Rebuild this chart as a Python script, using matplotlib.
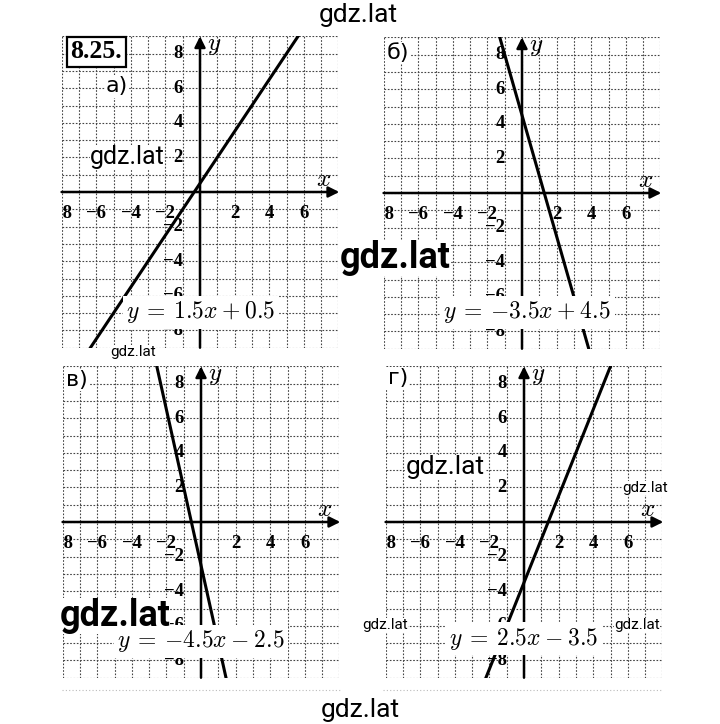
import numpy as np
import matplotlib
matplotlib.use("Agg")
import matplotlib.pyplot as plt

plt.rcParams['mathtext.fontset'] = 'cm'

# ---- data ----
panel_letters = ["а)", "б)", "в)", "г)"]
slopes = [1.5, -3.5, -4.5, 2.5]
intercepts = [0.5, 4.5, -2.5, -3.5]
formulas = [r"$y\:=\:1.5x\:+\:0.5$", r"$y\:=\:{-}3.5x\:+\:4.5$",
            r"$y\:=\:{-}4.5x\:-\:2.5$", r"$y\:=\:2.5x\:-\:3.5$"]
x_tick_vals = [-8, -6, -4, -2, 2, 4, 6]
x_tick_labels = ["−8", "−6", "−4", "−2", "2", "4", "6"]
y_tick_vals = [8, 6, 4, 2, -2, -4, -6, -8]
y_tick_labels = ["8", "6", "4", "2", "−2", "−4", "−6", "−8"]
problem_number = "8.25."

# ---- layout ----
W, H = 720, 724
u = 17.3
origins = [(200, 192), (522, 193), (201, 522), (524, 522)]   # pixel origin of each panel
letter_pos = [(-4.8, 6.1), (-7.2, 8.1), (-7.2, 8.2), (-7.3, 8.3)]
formula_pos = [(0.05, -6.95), (0.3, -6.9), (0.0, -6.9), (0.0, -6.75)]

fig = plt.figure(figsize=(W / 100, H / 100), dpi=100)
fig.patch.set_facecolor("white")

serif_bold = dict(family="Liberation Serif", weight="bold")

for i, (ox, oy) in enumerate(origins):
    left = ox - 8 * u
    top = oy - 9 * u
    ax = fig.add_axes([left / W, (H - (top + 18 * u)) / H, 16 * u / W, 18 * u / H])
    ax.set_xlim(-8, 8)
    ax.set_ylim(-9, 9)
    for s in ax.spines.values():
        s.set_visible(False)
    ax.set_xticks([])
    ax.set_yticks([])
    # grid
    for gx in range(-8, 9):
        ax.plot([gx, gx], [-9, 9], color="#444444", lw=0.8, ls=(0, (1.5, 1.5)), zorder=1)
    for gy in range(-9, 10):
        ax.plot([-8, 8], [gy, gy], color="#444444", lw=0.8, ls=(0, (1.5, 1.5)), zorder=1)
    # axes with arrows
    ax.annotate("", xy=(8.05, 0), xytext=(-8, 0),
                arrowprops=dict(arrowstyle="-|>", lw=1.8, color="black",
                                mutation_scale=16, shrinkA=0, shrinkB=0),
                annotation_clip=False, zorder=3)
    ax.annotate("", xy=(0, 9.0), xytext=(0, -9),
                arrowprops=dict(arrowstyle="-|>", lw=1.8, color="black",
                                mutation_scale=16, shrinkA=0, shrinkB=0),
                annotation_clip=False, zorder=3)
    ax.text(7.15, 0.75, r"$x$", fontsize=18, ha="center", va="center", zorder=4)
    ax.text(0.8, 8.5, r"$y$", fontsize=18, ha="center", va="center", zorder=4)
    # tick labels
    for v, lab in zip(x_tick_vals, x_tick_labels):
        ax.text(v, -1.25, lab, fontsize=13.5, ha="center", va="center",
                clip_on=True, zorder=4, **serif_bold)
    for v, lab in zip(y_tick_vals, y_tick_labels):
        ax.text(-1.0, v, lab, fontsize=13.5, ha="right", va="center",
                clip_on=True, zorder=4, **serif_bold)
    # the graph line
    xs = np.array([-8.0, 8.0])
    ax.plot(xs, slopes[i] * xs + intercepts[i], color="black", lw=2.2,
            solid_capstyle="butt", zorder=5)
    # formula
    fx, fy = formula_pos[i]
    ax.text(fx, fy, formulas[i], fontsize=17, ha="center", va="center", zorder=6,
            bbox=dict(facecolor="white", edgecolor="none", pad=2.5))
    # panel letter
    lx, ly = letter_pos[i]
    ax.text(lx, ly, panel_letters[i], fontsize=16, ha="center", va="center",
            family="DejaVu Sans", zorder=6,
            bbox=dict(facecolor="white", edgecolor="none", pad=1))
    if i == 0:
        ax.text(-6.0, 8.1, problem_number, fontsize=18.5, ha="center", va="center",
                zorder=7, **serif_bold,
                bbox=dict(facecolor="white", edgecolor="black", lw=1.6, pad=2.5))

# faint dotted lines near the bottom of the page
for x0, x1 in [(62, 340), (383, 662)]:
    fig.add_artist(plt.Line2D([x0 / W, x1 / W], [1 - 690 / H, 1 - 690 / H],
                              color="#bbbbbb", lw=0.8, ls=(0, (1, 2))))

# watermarks
wm = [
    (358, 15, 19, "normal"), (395, 258, 26, "bold"), (133, 352, 11, "normal"),
    (127, 157, 18, "normal"), (445, 467, 19, "normal"), (645, 488, 11, "normal"),
    (115, 616, 26, "bold"), (385, 625, 11, "normal"), (637, 625, 11, "normal"),
    (360, 710, 19, "normal"),
]
for x, y, fs, wt in wm:
    fig.text(x / W, 1 - y / H, "gdz.lat", fontsize=fs, weight=wt, family="Roboto",
             ha="center", va="center", zorder=10,
             bbox=dict(facecolor="white", edgecolor="none", pad=0))

fig.savefig("out.png", dpi=100, facecolor="white")
